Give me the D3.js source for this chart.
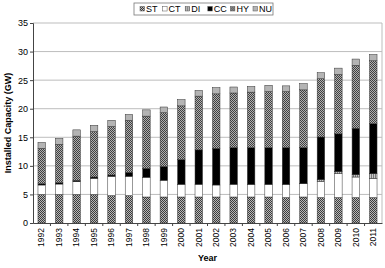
<!DOCTYPE html>
<html>
<head>
<meta charset="utf-8">
<script src="https://cdn.jsdelivr.net/npm/d3@7"></script>
<style>
  body { margin: 0; background: #fff; }
  svg { font-family: "Liberation Sans", Arial, sans-serif; }
</style>
</head>
<body>
<div id="chart"></div>
<script>
// dades llegides del grafic (GW)
const years = ["1992","1993","1994","1995","1996","1997","1998","1999","2000","2001",
               "2002","2003","2004","2005","2006","2007","2008","2009","2010","2011"];
const series = ["ST", "CT", "DI", "CC", "HY", "NU"];
const ST = [5.0,5.0,5.0,5.0,4.8,4.8,4.55,4.55,4.55,4.55,4.55,4.55,4.55,4.55,4.45,4.55,4.45,4.45,4.45,4.45];
const CT = [1.65,1.82,2.23,2.82,3.37,3.37,3.45,2.92,2.22,2.22,2.1,2.22,2.2,2.2,2.3,2.33,2.85,4.18,3.6,3.37];
const DI = [0,0,0,0,0,0,0,0,0,0,0,0,0,0,0,0,0.28,0.35,0.4,0.8];
const CC = [0.23,0.23,0.24,0.23,0.23,0.7,1.57,2.43,4.33,6.03,6.42,6.43,6.45,6.45,6.45,6.32,7.47,6.62,8.14,8.77];
const HY = [6.19,6.72,7.73,7.95,8.5,9.1,9.13,9.4,9.4,9.4,9.53,9.55,9.7,9.8,9.8,10.1,10.2,10.4,11.0,11.0];
const NU = [1.03,1.03,1.1,1.1,1.07,1.03,1.1,1.0,1.1,1.0,1.1,1.05,1.0,1.1,1.0,1.1,1.05,1.1,1.1,1.1];
const yTicks = [0, 5, 10, 15, 20, 25, 30, 35];

const values = {ST: ST, CT: CT, DI: DI, CC: CC, HY: HY, NU: NU};
const data = years.map((y, i) => {
    const row = {year: y};
    series.forEach(s => row[s] = values[s][i]);
    return row;
});

const W = 385, H = 268;
const margin = {top: 23, right: 3, bottom: 45, left: 33};
const width = W - margin.left - margin.right;
const height = H - margin.top - margin.bottom;

const svg = d3.select("#chart").append("svg")
    .attr("width", W).attr("height", H);

// patrons de farciment
const defs = svg.append("defs");
function hatch(id, bg, fg) {
    const p = defs.append("pattern")
        .attr("id", id).attr("patternUnits", "userSpaceOnUse")
        .attr("width", 2).attr("height", 2);
    p.append("rect").attr("width", 2).attr("height", 2).attr("fill", bg);
    p.append("rect").attr("width", 1).attr("height", 1).attr("fill", fg);
    p.append("rect").attr("x", 1).attr("y", 1).attr("width", 1).attr("height", 1).attr("fill", fg);
}
hatch("pST", "#b8b8b8", "#3c3c3c");
hatch("pHY", "#b0b0b0", "#404040");
const pDI = defs.append("pattern")
    .attr("id", "pDI").attr("patternUnits", "userSpaceOnUse")
    .attr("width", 2).attr("height", 2);
pDI.append("rect").attr("width", 2).attr("height", 2).attr("fill", "#c8c8c8");
pDI.append("rect").attr("width", 1).attr("height", 2).attr("fill", "#7a7a7a");

const fills = {ST: "url(#pST)", CT: "#ffffff", DI: "url(#pDI)", CC: "#000000", HY: "url(#pHY)", NU: "#b4b4b4"};

const g = svg.append("g").attr("transform", `translate(${margin.left},${margin.top})`);

const x = d3.scaleBand().domain(years).range([0, width]).paddingInner(0.57).paddingOuter(0.285);
const x0 = d3.scaleBand().domain(years).range([0, width]);
const y = d3.scaleLinear().domain([0, 35]).range([height, 0]);

// graella
g.selectAll(".grid").data(yTicks.filter(d => d > 0))
    .enter().append("line")
    .attr("x1", 0).attr("x2", width)
    .attr("y1", d => y(d)).attr("y2", d => y(d))
    .attr("stroke", "#bdbdbd").attr("stroke-width", 1);

// vora area grafic
g.append("line").attr("x1", width).attr("x2", width).attr("y1", 0).attr("y2", height)
    .attr("stroke", "#bdbdbd");

// barres apilades
const stack = d3.stack().keys(series)(data);
g.selectAll(".serie").data(stack).enter().append("g")
    .attr("fill", d => fills[d.key])
    .selectAll("rect").data(d => d.filter(p => p[1] - p[0] > 0))
    .enter().append("rect")
    .attr("x", d => x(d.data.year))
    .attr("width", x.bandwidth())
    .attr("y", d => y(d[1]))
    .attr("height", d => y(d[0]) - y(d[1]))
    .attr("stroke", "#333").attr("stroke-width", 0.5);

// eix Y
const yAxis = g.append("g")
    .call(d3.axisLeft(y).tickValues(yTicks).tickSize(3).tickPadding(2));
yAxis.select(".domain").attr("stroke", "#444");
yAxis.selectAll(".tick line").attr("stroke", "#444");
yAxis.selectAll("text").style("font-size", "9px").attr("fill", "#000");

// eix X
const xAxis = g.append("g").attr("transform", `translate(0,${height})`)
    .call(d3.axisBottom(x0).tickSize(0).tickSizeOuter(0));
xAxis.select(".domain").attr("stroke", "#444");
xAxis.selectAll("text")
    .style("font-size", "8.5px").attr("fill", "#000")
    .attr("text-anchor", "end")
    .attr("transform", "rotate(-90)")
    .attr("x", -5).attr("y", 0).attr("dy", "0.32em");
// marques entre categories
g.selectAll(".xtick").data(years.slice(1))
    .enter().append("line")
    .attr("x1", d => x0(d)).attr("x2", d => x0(d))
    .attr("y1", height).attr("y2", height + 3)
    .attr("stroke", "#444");

// titols eixos
svg.append("text")
    .attr("transform", `translate(11,${margin.top + height / 2}) rotate(-90)`)
    .attr("text-anchor", "middle")
    .style("font-size", "9px").style("font-weight", "bold")
    .text("Installed Capacity (GW)");
svg.append("text")
    .attr("x", margin.left + width / 2).attr("y", 261)
    .attr("text-anchor", "middle")
    .style("font-size", "9px").style("font-weight", "bold")
    .text("Year");

// llegenda
const leg = svg.append("g").attr("transform", "translate(134,3)");
leg.append("rect").attr("width", 139).attr("height", 12)
    .attr("fill", "#fff").attr("stroke", "#777").attr("stroke-width", 0.8);
series.forEach((s, i) => {
    const it = leg.append("g").attr("transform", `translate(${6 + i * 22.6},0)`);
    it.append("rect").attr("x", 0).attr("y", 3.5).attr("width", 4.5).attr("height", 4.5)
        .attr("fill", fills[s]).attr("stroke", "#555").attr("stroke-width", 0.5);
    it.append("text").attr("x", 6).attr("y", 9.3)
        .style("font-size", "9px").text(s);
});
</script>
</body>
</html>
